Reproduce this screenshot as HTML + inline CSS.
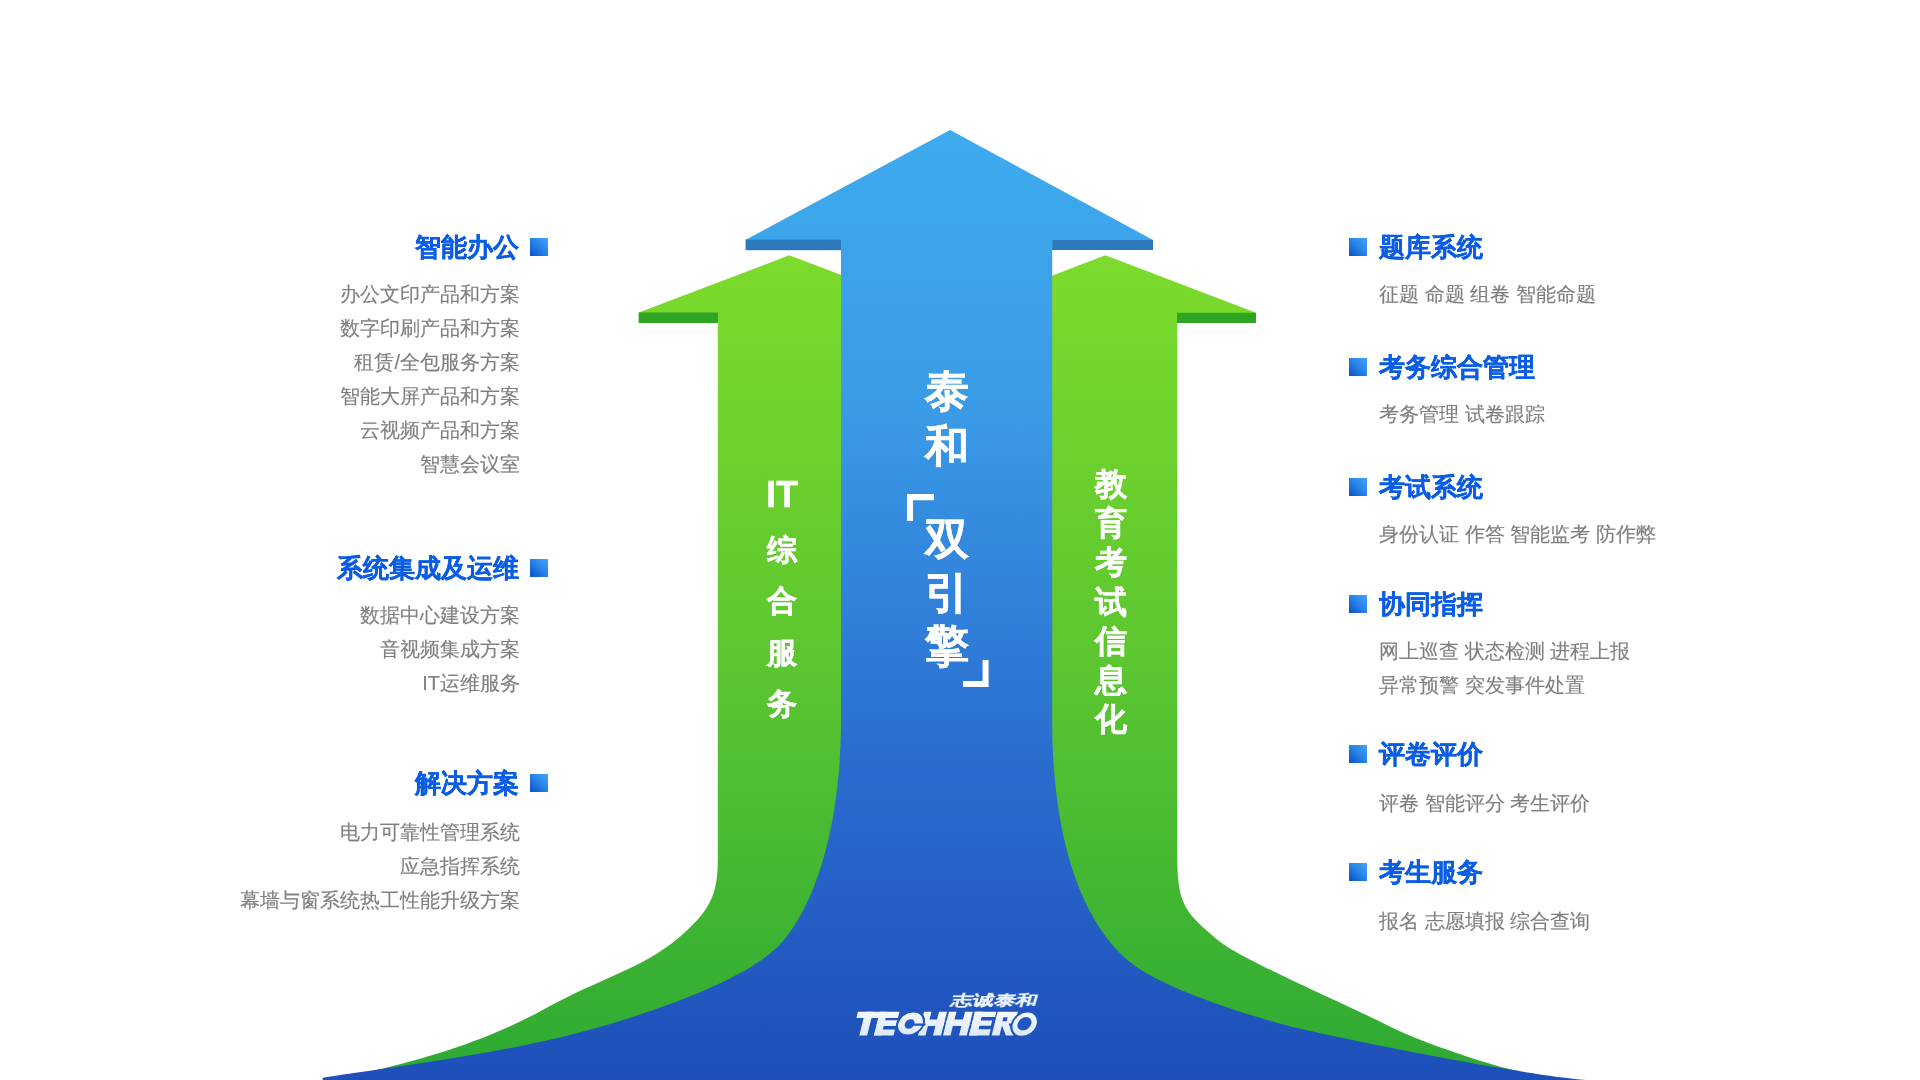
<!DOCTYPE html>
<html><head><meta charset="utf-8">
<style>
html,body{margin:0;padding:0;background:#fff;}
body{width:1920px;height:1080px;position:relative;overflow:hidden;font-family:"Liberation Sans",sans-serif;}
svg.bg{position:absolute;left:0;top:0;}
.h{position:absolute;font-size:26px;font-weight:bold;color:#0a5de4;line-height:30px;white-space:nowrap;-webkit-text-stroke:0.3px #0a5de4;}
.hl{text-align:right;right:1401px;}
.hr{left:1379px;}
.g{position:absolute;font-size:20px;color:#7f7f7f;line-height:34px;white-space:nowrap;-webkit-text-stroke:0.15px #7f7f7f;}
.gl{text-align:right;right:1400px;}
.gr{left:1379px;}
.h,.g,.v{will-change:transform;}
.sq{position:absolute;width:18px;height:18px;background:linear-gradient(45deg,#0a50c4 0%,#2a86ea 55%,#45a3f5 100%);}
.v{position:absolute;color:#fff;font-weight:bold;text-align:center;white-space:nowrap;-webkit-text-stroke:0.4px #fff;}
</style></head><body>
<svg class="bg" width="1920" height="1080" viewBox="0 0 1920 1080">
<defs>
<linearGradient id="gb" x1="0" y1="130" x2="0" y2="1080" gradientUnits="userSpaceOnUse">
<stop offset="0" stop-color="#3eabee"/>
<stop offset="0.3" stop-color="#3a9ae6"/>
<stop offset="0.65" stop-color="#2a6ed0"/>
<stop offset="1" stop-color="#1e4fb9"/>
</linearGradient>
<linearGradient id="gg" x1="0" y1="255" x2="0" y2="1070" gradientUnits="userSpaceOnUse">
<stop offset="0" stop-color="#7cdb2b"/>
<stop offset="0.5" stop-color="#5cc630"/>
<stop offset="1" stop-color="#2eaa33"/>
</linearGradient>
</defs>
<!-- left green -->
<path id="pgl" fill="url(#gg)" d="M638.75,312.5 L789.2,255.3 L940,312.5 L940,1080 L375,1080 L375,1070.3 C420.0,1059.8 484.1,1042.3 543.5,1009.4 C602.1,977.0 640.9,969.7 679.9,936.7 C714.8,907.2 717.8,889.0 717.8,855.0 L717.8,323 L638.75,323 Z"/>
<rect x="638.75" y="312.5" width="79.15" height="10.5" fill="#2fa524"/>
<!-- right green -->
<path id="pgr" fill="url(#gg)" d="M1256,312.8 L1105.3,255.3 L955,312.8 L955,1080 L1517.5,1080 L1517.5,1070.6 C1494.6,1067.0 1419.0,1041.4 1388.3,1025.7 C1355.9,1009.1 1241.1,959.4 1218.3,940.4 C1186.0,913.4 1177.3,905.1 1177.3,858.0 L1177.3,323 L1256,323 Z"/>
<rect x="1177" y="312.8" width="79" height="10.2" fill="#2fa524"/>
<!-- blue -->
<path id="pb" fill="url(#gb)" d="M950.1,130 L1153,240 L1153,250 L1052.2,250 L1052.2,720 C1052.2,854.4 1089.5,931.1 1132.5,963.9 C1165.3,988.9 1246.2,1015.3 1299.5,1028.6 C1330.6,1036.3 1509.3,1073.2 1586.0,1080.0 L1586,1080 L322.7,1080 L322.7,1077.7 C402.1,1065.5 489.6,1055.0 572.9,1034.2 C632.6,1019.3 750.2,981.4 783.6,940.6 C819.5,896.8 841.0,816.6 841.0,720.0 L841,250 L745.7,250 L745.7,239.7 Z"/>
<rect x="745.7" y="239.7" width="95.3" height="10.5" fill="#2b78ba"/>
<rect x="1052.5" y="240" width="100.5" height="10" fill="#2b78ba"/>
<!-- brackets -->
<path fill="#fff" d="M907,494 H934 V500.2 H913 V521 H907 Z"/>
<path fill="#fff" d="M988.6,687 H963 V681 H982.6 V660 H988.6 Z"/>
</svg>

<!-- left column -->
<div class="h hl" style="top:232px">智能办公</div>
<div class="sq" style="left:530px;top:238px"></div>
<div class="g gl" style="top:277px">办公文印产品和方案<br>数字印刷产品和方案<br>租赁/全包服务方案<br>智能大屏产品和方案<br>云视频产品和方案<br>智慧会议室</div>

<div class="h hl" style="top:553px">系统集成及运维</div>
<div class="sq" style="left:530px;top:559px"></div>
<div class="g gl" style="top:598px">数据中心建设方案<br>音视频集成方案<br>IT运维服务</div>

<div class="h hl" style="top:768px">解决方案</div>
<div class="sq" style="left:530px;top:774px"></div>
<div class="g gl" style="top:815px">电力可靠性管理系统<br>应急指挥系统<br>幕墙与窗系统热工性能升级方案</div>

<!-- right column -->
<div class="sq" style="left:1349px;top:238px"></div>
<div class="h hr" style="top:232px">题库系统</div>
<div class="g gr" style="top:277px">征题 命题 组卷 智能命题</div>

<div class="sq" style="left:1349px;top:358px"></div>
<div class="h hr" style="top:352px">考务综合管理</div>
<div class="g gr" style="top:397px">考务管理 试卷跟踪</div>

<div class="sq" style="left:1349px;top:478px"></div>
<div class="h hr" style="top:472px">考试系统</div>
<div class="g gr" style="top:517px">身份认证 作答 智能监考 防作弊</div>

<div class="sq" style="left:1349px;top:595px"></div>
<div class="h hr" style="top:589px">协同指挥</div>
<div class="g gr" style="top:634px">网上巡查 状态检测 进程上报<br>异常预警 突发事件处置</div>

<div class="sq" style="left:1349px;top:745px"></div>
<div class="h hr" style="top:739px">评卷评价</div>
<div class="g gr" style="top:786px">评卷 智能评分 考生评价</div>

<div class="sq" style="left:1349px;top:863px"></div>
<div class="h hr" style="top:857px">考生服务</div>
<div class="g gr" style="top:904px">报名 志愿填报 综合查询</div>

<!-- center vertical texts -->
<div class="v" style="left:897px;top:363.5px;width:100px;font-size:44px;line-height:54.5px">泰<br>和</div>
<div class="v" style="left:897px;top:512px;width:100px;font-size:44px;line-height:53.5px">双<br>引<br>擎</div>
<div class="v" style="left:742px;top:474.5px;width:80px;font-size:36px;line-height:40px;font-family:'Liberation Sans',sans-serif">IT</div>
<div class="v" style="left:742px;top:523.5px;width:80px;font-size:30px;line-height:51.3px">综<br>合<br>服<br>务</div>
<div class="v" style="left:1071px;top:465px;width:80px;font-size:32px;line-height:39.2px">教<br>育<br>考<br>试<br>信<br>息<br>化</div>

<!-- logo -->
<div id="lg1" style="position:absolute;left:953.5px;top:991.5px;font-size:21.5px;line-height:26px;font-weight:bold;color:#eef4ff;white-space:nowrap;transform-origin:0 0;will-change:transform;transform:scale(0.98,0.66) skewX(-11deg);-webkit-text-stroke:0.3px #eef4ff">志诚泰和</div>
<svg id="lg2" style="position:absolute;left:0;top:0" width="1920" height="1080" viewBox="0 0 1920 1080">
<defs><linearGradient id="lgw" x1="0" y1="1011" x2="0" y2="1036" gradientUnits="userSpaceOnUse"><stop offset="0" stop-color="#f6f9ff"/><stop offset="1" stop-color="#dce8f9"/></linearGradient></defs>
<g transform="translate(0,1035.6) skewX(-14.04) translate(0,-1035.6)" fill="url(#lgw)">
<rect x="852" y="1011.65" width="41.5" height="6.25"/>
<rect x="859.3" y="1011.65" width="7.8" height="23.95"/>
<rect x="873.9" y="1011.65" width="7.4" height="23.95"/>
<rect x="873.9" y="1020.2" width="19.6" height="5.8"/>
<rect x="873.9" y="1029.5" width="19.6" height="6.1"/>
<rect x="918" y="1011.65" width="7.5" height="23.95"/>
<rect x="933" y="1011.65" width="8" height="23.95"/>
<rect x="918" y="1019.6" width="23" height="6.5"/>
<rect x="943" y="1011.65" width="7.5" height="23.95"/>
<rect x="959" y="1011.65" width="7.8" height="23.95"/>
<rect x="943" y="1019.6" width="23.8" height="6.5"/>
<rect x="968.9" y="1011.65" width="8.1" height="23.95"/>
<rect x="968.9" y="1011.65" width="21.5" height="5.3"/>
<rect x="968.9" y="1020.4" width="19.5" height="5.4"/>
<rect x="968.9" y="1029.3" width="20.2" height="6.3"/>
<path d="M991.6,1011.65 H1012 V1023.5 H1005.5 L1013.5,1035.6 H1005.8 L999.5,1025.5 V1035.6 H991.6 Z"/>
<rect x="998.8" y="1017.2" width="4.2" height="4" fill="#2157c0"/>
<ellipse cx="907.5" cy="1023.6" rx="13.2" ry="12" stroke="#2157c0" stroke-width="2"/>
<circle cx="906.7" cy="1024" r="4.8" fill="#2157c0"/>
<rect x="906.7" y="1023.4" width="16" height="2.4" fill="#2157c0"/>
<ellipse cx="1021.8" cy="1024.15" rx="12.9" ry="12.65" stroke="#2157c0" stroke-width="2"/>
<ellipse cx="1021.5" cy="1023.75" rx="6.85" ry="6.75" fill="#2157c0"/>
</g></svg>
</body></html>
